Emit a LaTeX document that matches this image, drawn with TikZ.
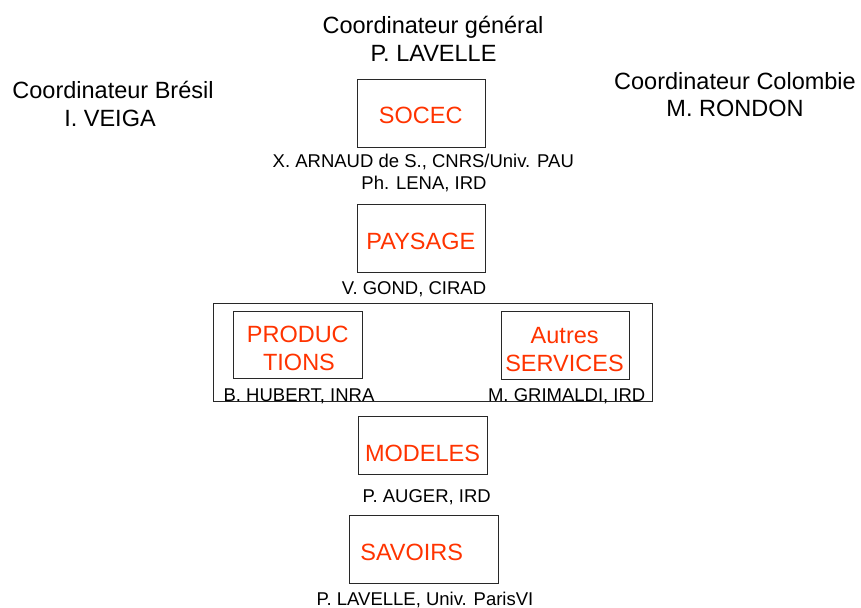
\documentclass[tikz,border=0pt]{standalone}
\usepackage{fontspec}
\setmainfont{Liberation Sans}
\definecolor{rouge}{RGB}{255,51,0}
\definecolor{trait}{RGB}{40,40,40}
\begin{document}
\begin{tikzpicture}[x=1pt,y=-1pt,
  box/.style={draw=trait, line width=0.9pt, inner sep=0pt},
  big/.style={font=\fontsize{23.5}{26}\selectfont, inner sep=0pt, anchor=base},
  small/.style={font=\fontsize{18.5}{21}\selectfont, inner sep=0pt, anchor=base},
  titre/.style={big, text=rouge}]
\useasboundingbox (0,0) rectangle (861,607);

% boxes
\node[box, minimum width=128pt, minimum height=68pt] (socec) at (421,113) {};
\node[box, minimum width=128pt, minimum height=68pt] (paysage) at (421,238) {};
\node[box, minimum width=439pt, minimum height=98pt] (groupe) at (432.5,352) {};
\node[box, minimum width=129pt, minimum height=67pt] (prod) at (297.5,344.5) {};
\node[box, minimum width=128pt, minimum height=68pt] (autres) at (565,345) {};
\node[box, minimum width=129pt, minimum height=58pt] (modeles) at (422.5,445) {};
\node[box, minimum width=149pt, minimum height=68pt] (savoirs) at (423.5,549) {};

% coordinators
\node[big] (cg1) at (433,34) {Coordinateur général};
\node[big] (cg2) at (433.5,62) {P. LAVELLE};
\node[big] (cb1) at (113,99) {Coordinateur Brésil};
\node[big] (cb2) at (110,126) {I. VEIGA};
\node[big] (cc1) at (735,90) {Coordinateur Colombie};
\node[big] (cc2) at (735,117) {M. RONDON};

% box titles
\node[titre] (tsocec) at (420.7,124) {SOCEC};
\node[titre] (tpaysage) at (420.8,249) {PAYSAGE};
\node[titre] (tprod1) at (297.8,342) {PRODUC};
\node[titre] (tprod2) at (299,370) {TIONS};
\node[titre] (tautres1) at (564.7,343) {Autres};
\node[titre] (tautres2) at (564.5,371) {SERVICES};
\node[titre] (tmodeles) at (422.5,461) {MODELES};
\node[titre] (tsavoirs) at (411.7,560) {SAVOIRS};

% names
\node[small] (n1) at (423.3,167) {X. ARNAUD de S., CNRS/Univ. PAU};
\node[small] (n2) at (424,189) {Ph. LENA, IRD};
\node[small] (n3) at (414,294) {V. GOND, CIRAD};
\node[small] (n4) at (299,401) {B. HUBERT, INRA};
\node[small] (n5) at (566.7,401) {M. GRIMALDI, IRD};
\node[small] (n6) at (426.7,502) {P. AUGER, IRD};
\node[small] (n7) at (425,605) {P. LAVELLE, Univ. ParisVI};
\end{tikzpicture}
\end{document}
